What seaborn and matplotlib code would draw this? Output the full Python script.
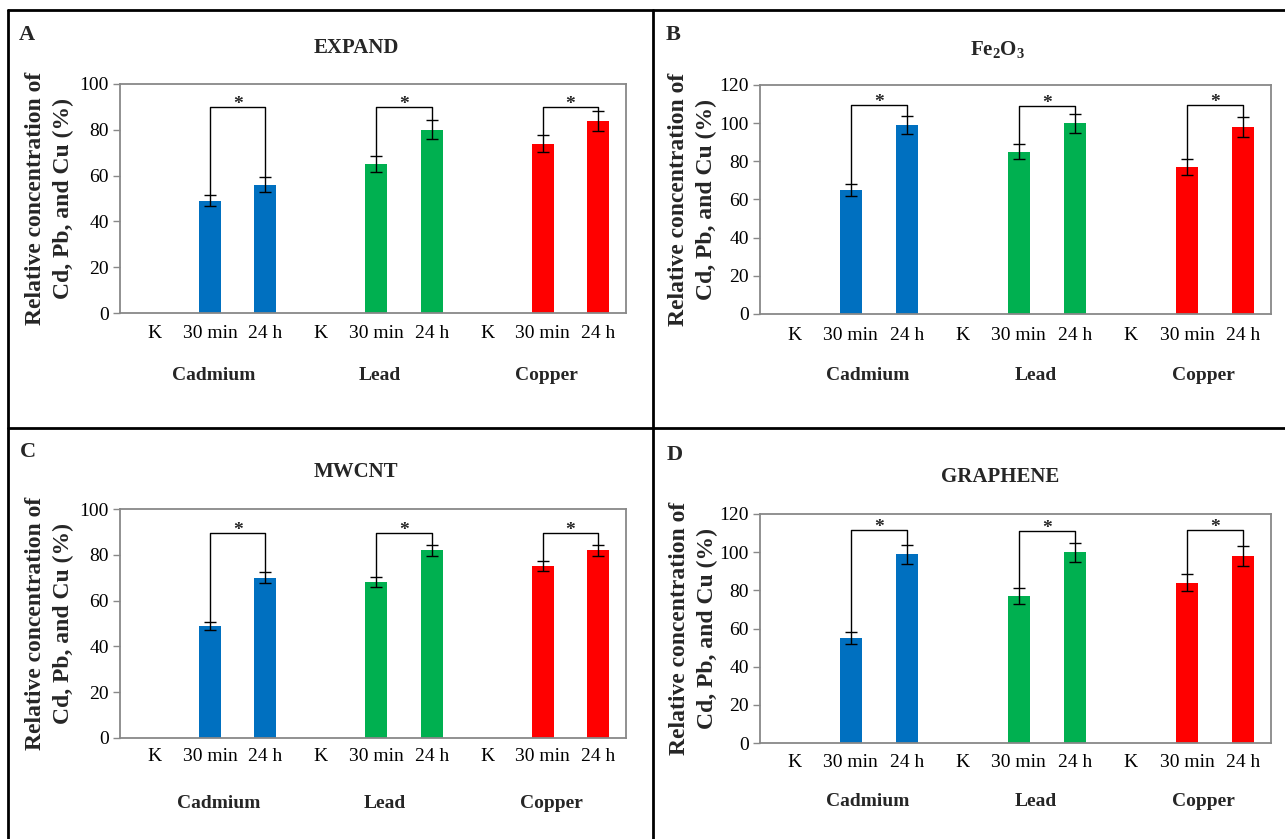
import numpy as np
import pandas as pd
import matplotlib
matplotlib.use("Agg")
import matplotlib.pyplot as plt
import seaborn as sns
from matplotlib.lines import Line2D
from matplotlib.transforms import blended_transform_factory

# ---------------- data ----------------
metals = ["Cadmium", "Lead", "Copper"]
times = ["K", "30 min", "24 h"]
measured_times = ["30 min", "24 h"]
metal_colors = ["#0070C0", "#00B050", "#FF0000"]

panel_letters = ["A", "B", "C", "D"]
panel_titles = ["EXPAND", r"$\mathbf{Fe_2O_3}$", "MWCNT", "GRAPHENE"]

# order: Cd 30 min, Cd 24 h, Pb 30 min, Pb 24 h, Cu 30 min, Cu 24 h
expand_mean = [49, 56, 65, 80, 74, 84]
expand_err = [2.4, 3.2, 3.4, 4.2, 3.8, 4.4]
fe2o3_mean = [65, 99, 85, 100, 77, 98]
fe2o3_err = [3.3, 4.8, 4.0, 5.0, 4.0, 5.0]
mwcnt_mean = [49, 70, 68, 82, 75, 82]
mwcnt_err = [1.7, 2.4, 2.2, 2.4, 2.2, 2.4]
graphene_mean = [55, 99, 77, 100, 84, 98]
graphene_err = [3.0, 5.0, 4.0, 5.0, 4.3, 5.0]

# significance bracket heights (one per metal)
expand_bracket = [90, 90, 90]
fe2o3_bracket = [109.5, 109, 109.5]
mwcnt_bracket = [89.5, 89.5, 89.5]
graphene_bracket = [111.5, 111, 111.5]
sig_label = "*"

y_max = [100, 120, 100, 120]
y_step = 20

means = [expand_mean, fe2o3_mean, mwcnt_mean, graphene_mean]
errs = [expand_err, fe2o3_err, mwcnt_err, graphene_err]
brackets = [expand_bracket, fe2o3_bracket, mwcnt_bracket, graphene_bracket]

# ---------------- style ----------------
sns.set_theme(style="white")
plt.rcParams["font.family"] = ["Liberation Serif", "DejaVu Serif"]
plt.rcParams["mathtext.fontset"] = "custom"
plt.rcParams["mathtext.bf"] = "Liberation Serif:bold"
plt.rcParams["mathtext.rm"] = "Liberation Serif"

W, H = 1285, 839
fig = plt.figure(figsize=(W / 100, H / 100), dpi=100)
fig.patch.set_facecolor("white")


def rect(l, t, r, b):
    return [l / W, 1 - b / H, (r - l) / W, (b - t) / H]


# layout (pixels)
axes_px = [(120, 84, 626, 313), (760, 85, 1271, 314),
           (120, 509, 626, 738), (760, 514, 1271, 743)]
letter_px = [(19, 35), (666, 35), (20, 452), (667, 455)]
title_px = [(356, 48), (998, 50), (356, 472), (1000, 477)]
ylabel_x = [-0.091, -0.084, -0.091, -0.082]
group_y_px = [376, 376, 803, 801]
group_dx = [0.07, 0.3, 0.16, 0.3]
tick_pad = [9, 9.5, 7, 8]

keys = [f"{m}|{t}" for m in metals for t in times]

for p in range(4):
    rows = []
    i = 0
    for m in metals:
        for t in measured_times:
            rows.append({"key": f"{m}|{t}", "metal": m, "time": t,
                         "value": means[p][i], "err": errs[p][i]})
            i += 1
    df = pd.DataFrame(rows)

    ax = fig.add_axes(rect(*axes_px[p]))
    sns.barplot(data=df, x="key", y="value", hue="metal", order=keys,
                hue_order=metals, palette=metal_colors, dodge=False,
                width=0.4, errorbar=None, legend=False, linewidth=0,
                saturation=1, ax=ax)

    xs = np.array([keys.index(k) for k in df["key"]])
    ax.errorbar(xs, df["value"], yerr=df["err"], fmt="none", ecolor="black",
                elinewidth=1.0, capsize=4, capthick=1.0, zorder=5)

    # significance brackets
    for g, m in enumerate(metals):
        sub = df[df["metal"] == m]
        x1 = keys.index(f"{m}|30 min")
        x2 = keys.index(f"{m}|24 h")
        y1 = sub["value"].iloc[0] + sub["err"].iloc[0]
        y2 = sub["value"].iloc[1] + sub["err"].iloc[1]
        yb = brackets[p][g]
        ax.plot([x1, x1, x2, x2], [y1, yb, yb, y2], color="black", lw=1.0,
                zorder=6)
        ax.annotate(sig_label, xy=((x1 + x2) / 2, yb), xytext=(0, -4.5),
                    textcoords="offset points", ha="center", va="bottom",
                    fontsize=14, fontweight="bold")

    ax.set_xlim(-0.62, 8.5)
    ax.set_ylim(0, y_max[p])
    ax.set_yticks(np.arange(0, y_max[p] + 1, y_step))
    ax.set_xticks(range(len(keys)))
    ax.set_xticklabels([t for m in metals for t in times])
    ax.tick_params(axis="x", length=0, pad=tick_pad[p], labelsize=14,
                   colors="black")
    ax.tick_params(axis="y", length=5, width=1, color="#888888",
                   direction="out", labelsize=14, pad=3, labelcolor="black")
    ax.yaxis.set_ticks_position("left")
    for s in ax.spines.values():
        s.set_visible(True)
        s.set_color("#888888")
        s.set_linewidth(1.3)
    ax.set_xlabel("")
    ax.set_ylabel("Relative concentration of\nCd, Pb, and Cu (%)",
                  fontsize=17, fontweight="bold", linespacing=1.4)
    ax.yaxis.set_label_coords(ylabel_x[p], 0.5)

    trans = blended_transform_factory(ax.transData, ax.transAxes)
    b = axes_px[p][3]
    hgt = axes_px[p][3] - axes_px[p][1]
    for g, m in enumerate(metals):
        xc = keys.index(f"{m}|30 min") + group_dx[p]
        ax.text(xc, -(group_y_px[p] - b) / hgt, m, transform=trans,
                ha="center", va="center", fontsize=14, fontweight="bold")

    fig.text(letter_px[p][0] / W, 1 - letter_px[p][1] / H, panel_letters[p],
             ha="left", va="center", fontsize=16, fontweight="bold")
    fig.text(title_px[p][0] / W, 1 - title_px[p][1] / H, panel_titles[p],
             ha="center", va="center", fontsize=15, fontweight="bold")

# panel frame lines
frame_kw = dict(color="black", lw=2, transform=fig.transFigure)
fig.add_artist(Line2D([8 / W, 1], [1 - 10 / H, 1 - 10 / H], **frame_kw))
fig.add_artist(Line2D([8 / W, 8 / W], [0, 1 - 10 / H], **frame_kw))
fig.add_artist(Line2D([653 / W, 653 / W], [0, 1 - 10 / H], **frame_kw))
fig.add_artist(Line2D([8 / W, 1], [1 - 428 / H, 1 - 428 / H], **frame_kw))

fig.savefig("out.png", dpi=100, facecolor="white")
